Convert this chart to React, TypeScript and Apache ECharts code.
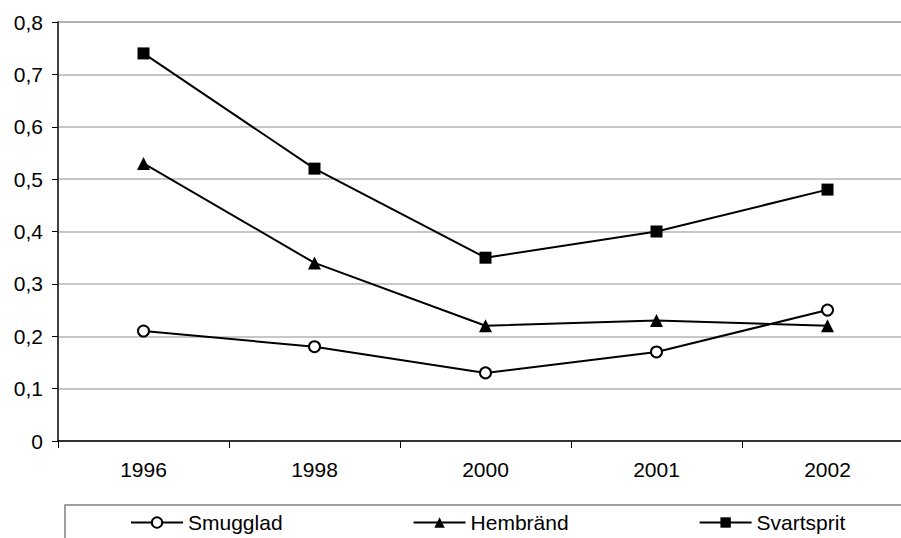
import React, { useEffect, useRef } from "react";
import * as echarts from "echarts";

const years = ["1996", "1998", "2000", "2001", "2002"];
const smugglad = [0.21, 0.18, 0.13, 0.17, 0.25];
const hembrand = [0.53, 0.34, 0.22, 0.23, 0.22];
const svartsprit = [0.74, 0.52, 0.35, 0.4, 0.48];
const seriesNames = ["Smugglad", "Hembränd", "Svartsprit"];

const FONT = "'Liberation Sans', Arial, Helvetica, sans-serif";
const FS = 21;

export default function App() {
  const ref = useRef<HTMLDivElement>(null);
  useEffect(() => {
    if (!ref.current) return;
    const chart = echarts.init(ref.current, null, { renderer: "svg" });
    const lineStyle = { color: "#000", width: 2 };
    chart.setOption({
      animation: false,
      backgroundColor: "#fff",
      textStyle: { fontFamily: FONT },
      grid: { left: 58, top: 22, height: 419, width: 855 },
      xAxis: {
        type: "category",
        data: years,
        boundaryGap: true,
        axisLine: { lineStyle: { color: "#000", width: 1.5 } },
        axisTick: { show: true, length: 7, interval: 0, lineStyle: { color: "#000", width: 1 } },
        axisLabel: { color: "#000", fontSize: FS, fontFamily: FONT, margin: 18 },
        splitLine: { show: false },
      },
      yAxis: {
        type: "value",
        min: 0,
        max: 0.8,
        interval: 0.1,
        axisLine: { show: true, lineStyle: { color: "#000", width: 1.5 } },
        axisTick: { show: true, length: 6, lineStyle: { color: "#000", width: 1 } },
        axisLabel: {
          color: "#000",
          fontSize: FS,
          fontFamily: FONT,
          margin: 15,
          formatter: (v: number) => (v === 0 ? "0" : v.toFixed(1).replace(".", ",")),
        },
        splitLine: {
          show: true,
          lineStyle: {
            color: ["#b4b4b4", "#b4b4b4", "#b4b4b4", "#b4b4b4", "#b4b4b4", "#b4b4b4", "#b4b4b4", "#b4b4b4", "#999999"],
            width: 1.5,
          },
        },
      },
      legend: {
        left: 125,
        top: 507,
        itemWidth: 52,
        itemHeight: 13,
        itemGap: 130,
        textStyle: { color: "#000", fontSize: FS, fontFamily: FONT },
        data: seriesNames,
      },
      graphic: [
        {
          type: "rect",
          shape: { x: 65, y: 505, width: 900, height: 100 },
          style: { fill: "none", stroke: "#808080", lineWidth: 1.5 },
          silent: true,
        },
      ],
      series: [
        {
          name: seriesNames[0],
          type: "line",
          data: smugglad,
          symbol: "circle",
          symbolSize: 11,
          lineStyle,
          itemStyle: { color: "#fff", borderColor: "#000", borderWidth: 2 },
        },
        {
          name: seriesNames[1],
          type: "line",
          data: hembrand,
          symbol: "triangle",
          symbolSize: 13,
          lineStyle,
          itemStyle: { color: "#000", borderColor: "#000", borderWidth: 0 },
        },
        {
          name: seriesNames[2],
          type: "line",
          data: svartsprit,
          symbol: "rect",
          symbolSize: 12,
          lineStyle,
          itemStyle: { color: "#000", borderColor: "#000", borderWidth: 0 },
        },
      ],
    });
    return () => chart.dispose();
  }, []);
  return (
    <div style={{ position: "fixed", left: 0, top: 0, width: 901, height: 538, overflow: "hidden", background: "#fff" }}>
      <div ref={ref} style={{ width: 930, height: 538 }} />
    </div>
  );
}
